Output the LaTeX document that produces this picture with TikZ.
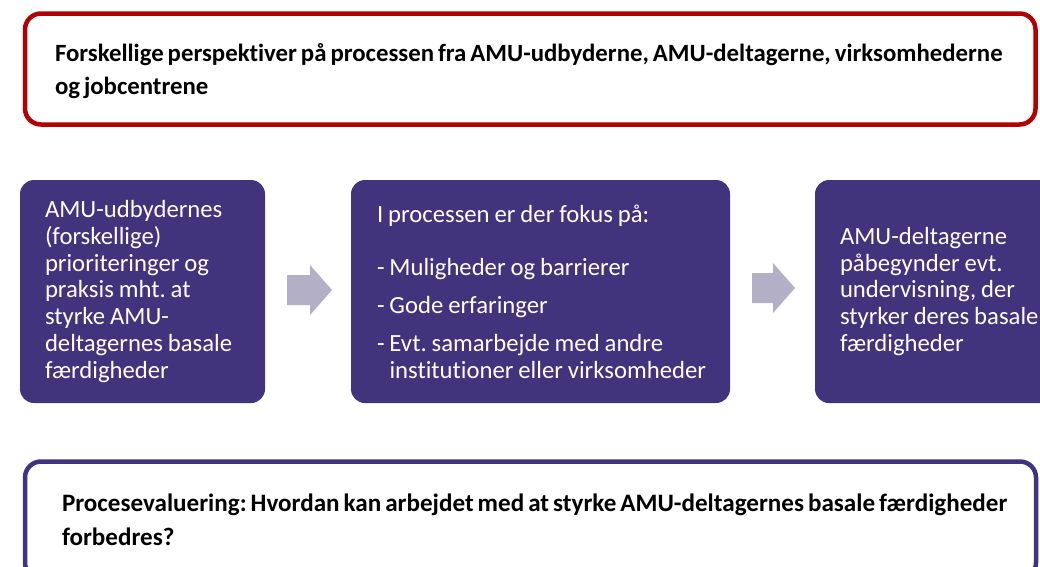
\documentclass[tikz,border=0pt]{standalone}
\usepackage{fontspec}
\setmainfont{Carlito}[Ligatures=NoCommon]
\frenchspacing
\definecolor{redb}{RGB}{176,0,0}
\definecolor{purp}{RGB}{65,51,124}
\definecolor{arrc}{RGB}{178,175,198}
\newcommand{\tightsp}{\spaceskip=0.16em\relax}
\newcommand{\midsp}{\spaceskip=0.2em\relax}
\begin{document}
\begin{tikzpicture}[x=1pt,y=-1pt,
  framebox/.style={draw, line width=4.5pt, rounded corners=16pt, fill=white,
    align=left, inner ysep=0pt, font=\bfseries\fontsize{24.8}{33.5}\selectfont, text=black},
  purpbox/.style={fill=purp, rounded corners=14pt, text=white, align=left,
    minimum height=223pt, inner xsep=25pt, inner ysep=0pt,
    font=\fontsize{24.7}{26.7}\selectfont},
  blockarrow/.style={fill=arrc}]
\useasboundingbox (0,0) rectangle (1040,566);
\clip (0,0) rectangle (1040,566);

\node[framebox, draw=redb, minimum width=1010.5pt, minimum height=111pt,
  inner xsep=30pt, text width=950.5pt] (top) at (530.25,69)
  {\tightsp\rule{0pt}{22pt}\mbox{Forskellige perspektiver på processen fra AMU-udbyderne, AMU-deltagerne, virksomhederne}\\og jobcentrene};

\node[purpbox, text width=195pt] (b1) at (142.5,291.5)
  {\midsp AMU-udbydernes\\(forskellige)\\prioriteringer og\\praksis mht. at\\styrke AMU-\\\mbox{deltagernes basale}\\færdigheder};

\node[purpbox, text width=327pt, inner xsep=26pt] (b2) at (540.5,291.5)
  {\midsp I processen er der fokus på:\\[27pt]- Muligheder og barrierer\\[11pt]- Gode erfaringer\\[11pt]\mbox{- Evt. samarbejde med andre}\\\mbox{\hphantom{- }institutioner eller virksomheder}};

\node[purpbox, text width=200pt] (b3) at (940,291.5)
  {\midsp AMU-deltagerne\\påbegynder evt.\\undervisning, der\\\mbox{styrker deres basale}\\færdigheder};

\node[framebox, draw=purp, minimum width=1011pt, minimum height=117pt,
  inner xsep=37pt, text width=937pt, font=\bfseries\fontsize{25.1}{34}\selectfont] (bot) at (530.5,520)
  {\tightsp\mbox{Procesevaluering: Hvordan kan arbejdet med at styrke AMU-deltagernes basale færdigheder}\\forbedres?};

\coordinate (a1) at (287,290);
\coordinate (a2) at (752,288);
\fill[blockarrow] (a1) ++(0,-15) -- ++(23,0) -- ++(0,-10) -- ++(22,25) -- ++(-22,25) -- ++(0,-10) -- ++(-23,0) -- cycle;
\fill[blockarrow] (a2) ++(0,-15) -- ++(21,0) -- ++(0,-10) -- ++(22,25) -- ++(-22,25) -- ++(0,-10) -- ++(-21,0) -- cycle;
\end{tikzpicture}
\end{document}
